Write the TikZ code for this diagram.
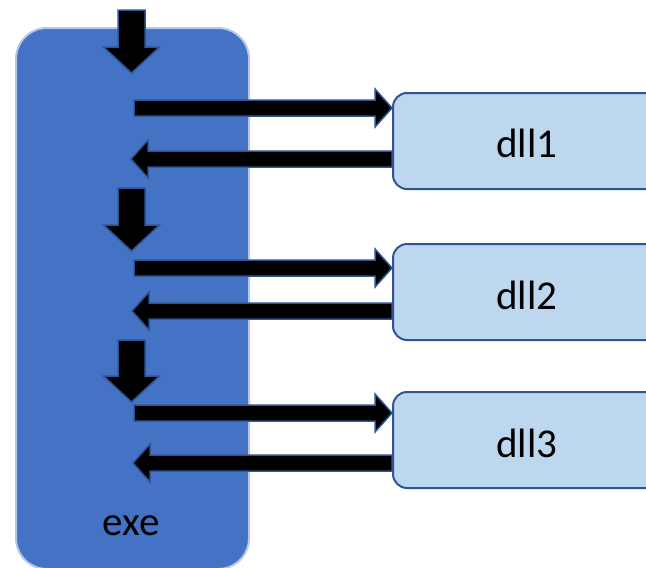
\documentclass[tikz,border=0pt]{standalone}
\usepackage{fontspec}
\setmainfont{Carlito}
\usetikzlibrary{calc}

\definecolor{exeblue}{HTML}{4472C4}
\definecolor{exeedge}{HTML}{B4C7E7}
\definecolor{dllfill}{HTML}{BDD7EE}
\definecolor{dlledge}{HTML}{2F5597}

\tikzset{
  exebox/.style={draw=exeedge, line width=2pt, fill=exeblue, rounded corners=31pt,
    anchor=north west, inner sep=0pt},
  dllbox/.style={draw=dlledge, line width=2pt, fill=dllfill, rounded corners=14pt,
    anchor=north west, minimum width=280pt, minimum height=96pt, inner sep=0pt},
  lbl/.style={font=\fontsize{41}{46}\selectfont, text=black, inner sep=0pt},
  blk/.style={fill=black, draw=dlledge, line width=1.5pt, line join=miter},
}

% horizontal block arrow: tail, tip, direction (+1 right, -1 left)
\newcommand\hblock[3]{%
  \filldraw[blk] ($(#1)+(0,-8)$) -- ($(#2)+(-17*#3,-8)$) -- ($(#2)+(-17*#3,-19)$)
    -- (#2) -- ($(#2)+(-17*#3,19)$) -- ($(#2)+(-17*#3,8)$) -- ($(#1)+(0,8)$) -- cycle;}
% downward block arrow: tail, tip
\newcommand\vblock[2]{%
  \filldraw[blk] ($(#1)+(-13.5,0)$) -- ($(#2)+(-13.5,-26)$) -- ($(#2)+(-28,-26)$)
    -- (#2) -- ($(#2)+(28,-26)$) -- ($(#2)+(13.5,-26)$) -- ($(#1)+(13.5,0)$) -- cycle;}

\begin{document}
\begin{tikzpicture}[x=1pt, y=-1pt]
  \useasboundingbox (0,0) rectangle (646,568);

  \node[exebox, minimum width=233pt, minimum height=541pt] (exe) at (15,27) {};
  \node[lbl] (exetext) at (131,526) {exe};

  \node[dllbox] (dll1) at (392,92) {};
  \node[dllbox] (dll2) at (392,243) {};
  \node[dllbox] (dll3) at (392,391) {};
  \node[lbl] (t1) at (527,143) {dll1};
  \node[lbl] (t2) at (527,295) {dll2};
  \node[lbl] (t3) at (527,443) {dll3};

  % call flow through the executable
  \coordinate (d1a) at (131.5,10);  \coordinate (d1b) at (131.5,73);
  \coordinate (d2a) at (131.5,188); \coordinate (d2b) at (131.5,251);
  \coordinate (d3a) at (131.5,340); \coordinate (d3b) at (131.5,402);
  \vblock{d1a}{d1b}
  \vblock{d2a}{d2b}
  \vblock{d3a}{d3b}

  % calls into each library and the returns
  \coordinate (r1) at (134,108); \coordinate (l1) at (131,159);
  \coordinate (r2) at (134,268); \coordinate (l2) at (132,311);
  \coordinate (r3) at (134,413); \coordinate (l3) at (133,463);
  \hblock{r1}{dll1.west |- r1}{1}
  \hblock{dll1.west |- l1}{l1}{-1}
  \hblock{r2}{dll2.west |- r2}{1}
  \hblock{dll2.west |- l2}{l2}{-1}
  \hblock{r3}{dll3.west |- r3}{1}
  \hblock{dll3.west |- l3}{l3}{-1}
\end{tikzpicture}
\end{document}
